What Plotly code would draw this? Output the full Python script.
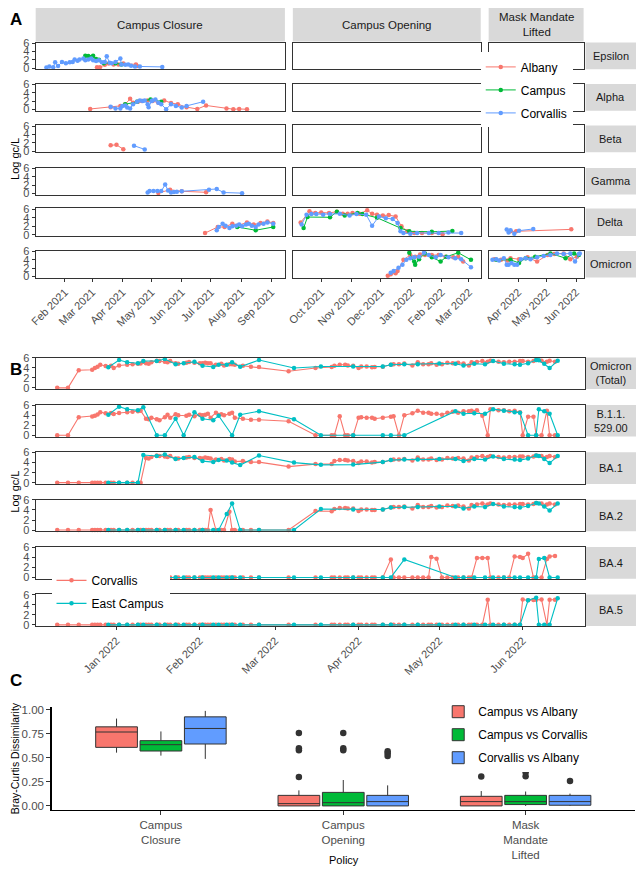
import plotly.graph_objects as go

# ---------------- Panel A data: (date, log gc/L) ----------------
EPSILON_ALBANY = [("2021-03-06", 0.2), ("2021-03-09", 0.2), ("2021-03-14", 0.8), ("2021-03-18", 1.1), ("2021-03-23", 0.9),
                  ("2021-03-28", 0.9), ("2021-04-02", 1.1), ("2021-04-15", 0.9), ("2021-04-16", 0.5)]
EPSILON_CAMPUS = [("2021-02-22", 3.0), ("2021-02-25", 2.9), ("2021-02-28", 2.7), ("2021-03-02", 3.0), ("2021-03-05", 2.2),
                  ("2021-03-08", 2.0), ("2021-03-13", 1.2), ("2021-03-25", 1.2), ("2021-03-31", 0.9)]
EPSILON_CORVALLIS = [("2021-01-13", 0.15), ("2021-01-16", 0.4), ("2021-01-20", 0.2), ("2021-01-22", 1.4), ("2021-01-25", 0.5),
                     ("2021-01-29", 1.5), ("2021-02-02", 1.15), ("2021-02-06", 1.4), ("2021-02-09", 1.5), ("2021-02-11", 2.1),
                     ("2021-02-14", 1.8), ("2021-02-16", 2.1), ("2021-02-20", 2.3), ("2021-02-22", 1.9), ("2021-02-25", 2.1),
                     ("2021-02-28", 2.3), ("2021-03-02", 1.9), ("2021-03-05", 1.7), ("2021-03-08", 1.9), ("2021-03-11", 1.4),
                     ("2021-03-14", 1.5), ("2021-03-16", 2.85), ("2021-03-19", 1.3), ("2021-03-21", 1.15), ("2021-03-25", 1.5),
                     ("2021-03-30", 2.3), ("2021-03-31", 0.9), ("2021-04-04", 0.8), ("2021-04-07", 0.9), ("2021-04-10", 0.6),
                     ("2021-04-14", 0.4), ("2021-04-19", 0.4), ("2021-05-12", 0.3)]

ALPHA_ALBANY = [("2021-02-27", 0.15), ("2021-03-20", 0.6), ("2021-03-30", 0.9), ("2021-04-04", 1.3), ("2021-04-09", 2.6),
                ("2021-04-12", 1.65), ("2021-04-17", 1.9), ("2021-04-21", 2.05), ("2021-04-27", 2.2), ("2021-05-02", 2.05),
                ("2021-05-08", 1.65), ("2021-05-14", 2.2), ("2021-05-21", 1.6), ("2021-05-28", 1.3), ("2021-06-06", 0.6),
                ("2021-06-17", 0.15), ("2021-06-26", 1.0), ("2021-07-17", 0.3), ("2021-07-24", 0.1), ("2021-07-30", 0.15),
                ("2021-08-07", 0.1)]
ALPHA_CAMPUS = [("2021-04-04", 1.3), ("2021-04-16", 1.9), ("2021-04-30", 2.45), ("2021-05-11", 1.9)]
ALPHA_CORVALLIS = [("2021-03-20", 0.7), ("2021-03-25", 0.3), ("2021-03-30", 0.3), ("2021-04-01", 0.9), ("2021-04-04", 1.0),
                   ("2021-04-06", 0.5), ("2021-04-09", 0.3), ("2021-04-12", 1.3), ("2021-04-16", 1.9), ("2021-04-19", 2.2),
                   ("2021-04-22", 2.05), ("2021-04-24", 2.2), ("2021-04-27", 1.3), ("2021-04-28", 0.6), ("2021-05-01", 2.05),
                   ("2021-05-02", 2.2), ("2021-05-05", 2.45), ("2021-05-08", 1.65), ("2021-05-11", 1.3), ("2021-05-16", 0.1),
                   ("2021-05-21", 1.3), ("2021-05-26", 0.9), ("2021-06-01", 0.5), ("2021-06-06", 0.9), ("2021-06-23", 1.9)]

BETA_ALBANY = [("2021-03-20", 1.4), ("2021-03-26", 1.5), ("2021-04-02", 0.45)]
BETA_CAMPUS = []
BETA_CORVALLIS = [("2021-04-13", 1.3), ("2021-04-24", 0.4)]

GAMMA_ALBANY = [("2021-05-08", 0.15), ("2021-05-20", 0.9), ("2021-06-01", 0.55), ("2021-06-26", 0.3)]
GAMMA_CAMPUS = []
GAMMA_CORVALLIS = [("2021-04-27", 0.25), ("2021-04-29", 0.6), ("2021-05-03", 0.6), ("2021-05-07", 0.6), ("2021-05-11", 0.6),
                   ("2021-05-15", 2.15), ("2021-05-18", 0.75), ("2021-05-21", 0.25), ("2021-05-24", 0.4), ("2021-05-27", 0.45),
                   ("2021-06-01", 0.55), ("2021-06-29", 0.9), ("2021-07-07", 1.1), ("2021-07-14", 0.25), ("2021-08-02", 0.1)]

DELTA_ALBANY = [("2021-06-25", 0.45), ("2021-07-08", 1.85), ("2021-07-15", 1.85), ("2021-07-23", 2.6), ("2021-07-28", 2.15),
                ("2021-08-07", 2.9), ("2021-08-14", 2.4), ("2021-08-21", 2.75), ("2021-08-28", 3.15), ("2021-09-03", 2.75),
                ("2021-09-10", 2.9), ("2021-09-19", 5.5), ("2021-09-25", 5.1), ("2021-10-01", 5.2), ("2021-10-09", 5.1),
                ("2021-10-17", 5.4), ("2021-10-23", 4.9), ("2021-10-28", 4.9), ("2021-11-02", 5.1), ("2021-11-09", 4.9),
                ("2021-11-17", 5.7), ("2021-11-22", 4.9), ("2021-11-27", 4.7), ("2021-12-03", 4.5), ("2021-12-09", 4.6),
                ("2021-12-16", 4.3), ("2021-12-22", 2.0), ("2021-12-28", 0.85), ("2022-01-04", 0.45), ("2022-01-12", 0.45),
                ("2022-01-22", 0.45), ("2022-02-02", 0.15),
                ("2022-03-24", 0.85), ("2022-03-30", 0.85), ("2022-05-27", 1.3)]
DELTA_CAMPUS = [("2021-07-28", 1.85), ("2021-08-16", 1.1), ("2021-09-03", 1.85),
                ("2021-09-13", 1.6), ("2021-09-17", 4.15), ("2021-10-10", 4.1), ("2021-10-17", 5.4), ("2021-10-25", 4.5),
                ("2021-11-07", 5.1), ("2021-11-12", 4.85), ("2021-11-27", 4.0), ("2021-12-21", 1.6), ("2021-12-30", 0.85),
                ("2022-01-22", 0.75), ("2022-02-12", 0.9)]
DELTA_CORVALLIS = [("2021-07-07", 1.1), ("2021-07-09", 1.85), ("2021-07-13", 2.6), ("2021-07-16", 2.15), ("2021-07-20", 1.6),
                   ("2021-07-23", 2.0), ("2021-07-27", 2.15), ("2021-07-30", 2.4), ("2021-08-02", 2.0), ("2021-08-06", 2.45),
                   ("2021-08-09", 2.6), ("2021-08-12", 2.15), ("2021-08-16", 1.85), ("2021-08-19", 2.4), ("2021-08-24", 2.6),
                   ("2021-08-28", 2.9), ("2021-09-03", 2.6),
                   ("2021-09-11", 2.4), ("2021-09-16", 4.7), ("2021-09-21", 4.85), ("2021-09-26", 4.85), ("2021-10-03", 4.7),
                   ("2021-10-10", 4.85), ("2021-10-20", 4.9), ("2021-10-30", 4.5), ("2021-11-06", 4.85), ("2021-11-16", 4.7),
                   ("2021-11-22", 2.15), ("2021-11-29", 4.3), ("2021-12-06", 3.9), ("2021-12-13", 3.7), ("2021-12-18", 2.75),
                   ("2021-12-21", 0.85), ("2021-12-24", 0.45), ("2021-12-31", 0.3), ("2022-01-07", 0.45), ("2022-01-19", 0.45),
                   ("2022-01-29", 0.45), ("2022-02-08", 0.6), ("2022-02-21", 0.45),
                   ("2022-03-20", 1.25), ("2022-03-22", 0.6), ("2022-03-24", 1.1), ("2022-03-28", 0.3), ("2022-04-02", 1.0),
                   ("2022-04-17", 1.4)]

OMICRON_ALBANY = [("2021-12-08", 0.15), ("2021-12-11", 0.55), ("2021-12-16", 0.75), ("2021-12-18", 1.3), ("2021-12-24", 4.0),
                  ("2021-12-31", 5.15), ("2022-01-05", 4.75), ("2022-01-10", 5.3), ("2022-01-15", 5.15), ("2022-01-22", 5.15),
                  ("2022-01-29", 5.15), ("2022-02-05", 4.75), ("2022-02-13", 4.6), ("2022-02-18", 4.75), ("2022-02-23", 3.6),
                  ("2022-03-07", 4.15), ("2022-03-14", 4.0), ("2022-03-21", 3.85), ("2022-03-24", 4.4), ("2022-04-02", 4.15),
                  ("2022-04-11", 4.6), ("2022-04-21", 3.6), ("2022-05-02", 5.15), ("2022-05-09", 5.4), ("2022-05-19", 5.55),
                  ("2022-05-26", 4.15), ("2022-06-02", 4.75)]
OMICRON_CAMPUS = [("2021-12-30", 5.7), ("2022-01-04", 3.6), ("2022-01-05", 2.85), ("2022-01-09", 4.15), ("2022-01-15", 5.55),
                  ("2022-01-22", 4.6), ("2022-01-31", 3.6), ("2022-02-06", 4.75), ("2022-02-18", 5.7), ("2022-03-03", 4.0),
                  ("2022-03-09", 4.0), ("2022-03-24", 4.0), ("2022-04-02", 3.25), ("2022-04-09", 4.4), ("2022-04-19", 4.75),
                  ("2022-05-05", 5.55), ("2022-05-21", 4.4), ("2022-05-30", 5.55), ("2022-06-04", 5.15)]
OMICRON_CORVALLIS = [("2021-12-11", 0.9), ("2021-12-14", 1.3), ("2021-12-19", 2.1), ("2021-12-23", 2.85), ("2021-12-27", 4.0),
                     ("2021-12-31", 4.4), ("2022-01-04", 4.6), ("2022-01-09", 4.75), ("2022-01-14", 5.7), ("2022-01-19", 5.15),
                     ("2022-01-26", 4.6), ("2022-01-31", 5.15), ("2022-02-08", 4.6), ("2022-02-15", 4.4), ("2022-02-21", 4.15),
                     ("2022-03-03", 2.25),
                     ("2022-03-05", 4.0), ("2022-03-09", 4.15), ("2022-03-12", 3.85), ("2022-03-17", 4.4), ("2022-03-20", 2.85),
                     ("2022-03-22", 2.85), ("2022-03-25", 3.25), ("2022-03-28", 2.85), ("2022-03-31", 2.85), ("2022-04-04", 4.15),
                     ("2022-04-09", 4.4), ("2022-04-14", 4.15), ("2022-04-21", 4.6), ("2022-04-28", 4.9), ("2022-05-05", 5.15),
                     ("2022-05-12", 5.55), ("2022-05-19", 5.4), ("2022-05-26", 5.55), ("2022-05-31", 3.6), ("2022-06-04", 5.4),
                     ("2022-06-05", 5.55)]

A_VARIANTS = ["Epsilon", "Alpha", "Beta", "Gamma", "Delta", "Omicron"]
A_SITES = ["Albany", "Campus", "Corvallis"]
A_DATA = {
    "Epsilon": [EPSILON_ALBANY, EPSILON_CAMPUS, EPSILON_CORVALLIS],
    "Alpha": [ALPHA_ALBANY, ALPHA_CAMPUS, ALPHA_CORVALLIS],
    "Beta": [BETA_ALBANY, BETA_CAMPUS, BETA_CORVALLIS],
    "Gamma": [GAMMA_ALBANY, GAMMA_CAMPUS, GAMMA_CORVALLIS],
    "Delta": [DELTA_ALBANY, DELTA_CAMPUS, DELTA_CORVALLIS],
    "Omicron": [OMICRON_ALBANY, OMICRON_CAMPUS, OMICRON_CORVALLIS],
}
A_POLICIES = ["Campus Closure", "Campus Opening", "Mask Mandate<br>Lifted"]
A_POLICY_STARTS = ["2021-09-06", "2022-03-04"]
A_TICKVALS = [["2021-02-01", "2021-03-01", "2021-04-01", "2021-05-01", "2021-06-01", "2021-07-01", "2021-08-01", "2021-09-01"],
              ["2021-10-01", "2021-11-01", "2021-12-01", "2022-01-01", "2022-02-01", "2022-03-01"],
              ["2022-04-01", "2022-05-01", "2022-06-01"]]
A_TICKTEXT = [["Feb 2021", "Mar 2021", "Apr 2021", "May 2021", "Jun 2021", "Jul 2021", "Aug 2021", "Sep 2021"],
              ["Oct 2021", "Nov 2021", "Dec 2021", "Jan 2022", "Feb 2022", "Mar 2022"],
              ["Apr 2022", "May 2022", "Jun 2022"]]

# ---------------- Panel B data ----------------
CORV_DATES = ["2021-12-10", "2021-12-14", "2021-12-18", "2021-12-23", "2021-12-24", "2021-12-25", "2021-12-26", "2021-12-28", "2021-12-30", "2021-12-31",
              "2022-01-02", "2022-01-05", "2022-01-07", "2022-01-09", "2022-01-10", "2022-01-12", "2022-01-13", "2022-01-14", "2022-01-16", "2022-01-17",
              "2022-01-19", "2022-01-20", "2022-01-21", "2022-01-23", "2022-01-24", "2022-01-27", "2022-01-28", "2022-01-30", "2022-02-01", "2022-02-02",
              "2022-02-03", "2022-02-04", "2022-02-05", "2022-02-07", "2022-02-09", "2022-02-10", "2022-02-12", "2022-02-13", "2022-02-14", "2022-02-17",
              "2022-02-20", "2022-02-23", "2022-03-06", "2022-03-16", "2022-03-22", "2022-03-23", "2022-03-25", "2022-03-27", "2022-03-28", "2022-03-30",
              "2022-04-01", "2022-04-02", "2022-04-04", "2022-04-06", "2022-04-07", "2022-04-10", "2022-04-13", "2022-04-14", "2022-04-16", "2022-04-18",
              "2022-04-21", "2022-04-23", "2022-04-25", "2022-04-27", "2022-04-28", "2022-04-30", "2022-05-02", "2022-05-04", "2022-05-06", "2022-05-08",
              "2022-05-10", "2022-05-12", "2022-05-13", "2022-05-15", "2022-05-17", "2022-05-19", "2022-05-20", "2022-05-23", "2022-05-25", "2022-05-27",
              "2022-05-29", "2022-05-31", "2022-06-01", "2022-06-03", "2022-06-05", "2022-06-06", "2022-06-08", "2022-06-10", "2022-06-11", "2022-06-13"]
CORV_OMICRON_TOTAL = [0, 0, 3.5, 3.6, 3.95, 4.2, 4.6, 4.35, 4.4, 3.95,
                      4.45, 4.6, 4.7, 4.8, 4.85, 4.9, 4.8, 5.1, 5.4, 5.35,
                      5.2, 5.1, 5.35, 4.9, 4.8, 5.0, 5.15, 5.0, 4.9, 4.9,
                      5.0, 4.9, 4.9, 4.6, 4.8, 4.45, 4.7, 4.7, 4.6, 4.4,
                      4.2, 4.15, 3.3, 3.95, 4.15, 4.4, 4.6, 4.6, 4.45, 4.4,
                      3.95, 4.25, 4.25, 4.1, 4.15, 4.2, 4.6, 4.7, 4.7, 4.85,
                      4.45, 5.1, 4.7, 4.7, 4.9, 4.6, 4.7, 5.0, 4.9, 5.0,
                      4.85, 4.45, 5.1, 5.15, 5.35, 5.2, 5.4, 5.2, 5.1, 5.2,
                      5.2, 5.35, 5.35, 5.2, 5.35, 5.55, 5.4, 5.2, 5.4, 5.2]
CORV_B11529 = [0, 0, 3.6, 3.75, 3.9, 4.15, 4.6, 4.4, 4.45, 4.25,
               4.45, 4.6, 4.7, 4.8, 4.9, 3.3, 3.2, 3.5, 3.2, 3.0,
               3.6, 4.1, 3.5, 4.2, 4.0, 3.9, 4.1, 3.8, 4.1, 4.0,
               4.1, 4.3, 3.5, 4.5, 4.2, 4.0, 4.3, 4.5, 3.5, 3.3,
               3.1, 3.1, 2.8, 0, 0, 0, 3.8, 0, 0, 0,
               3.5, 3.6, 3.5, 3.5, 3.3, 3.5, 3.7, 3.8, 0, 4.0,
               4.4, 4.9, 4.5, 4.5, 4.3, 4.3, 4.1, 4.5, 4.7, 4.5,
               4.8, 4.8, 4.9, 5.0, 3.9, 0, 5.2, 5.0, 5.0, 4.8,
               4.9, 4.6, 0, 3.7, 3.7, 0, 0, 4.9, 0, 0]
CORV_BA1 = [0, 0, 0, 0, 0, 0, 0, 0, 0, 0,
            0, 0, 0, 0, 0, 4.9, 4.8, 5.1, 5.4, 5.3,
            5.2, 5.1, 5.3, 4.8, 4.8, 5.0, 5.1, 4.9, 4.9, 4.8,
            5.0, 4.9, 4.8, 4.6, 4.7, 4.4, 4.7, 4.6, 4.2, 4.3,
            4.1, 4.1, 3.2, 3.7, 3.7, 4.3, 4.5, 4.5, 4.4, 4.3,
            3.9, 4.2, 4.2, 4.0, 4.1, 4.1, 4.5, 4.6, 4.6, 4.7,
            4.4, 5.0, 4.6, 4.6, 4.8, 4.5, 4.6, 4.9, 4.8, 4.9,
            4.8, 4.4, 5.0, 5.1, 5.3, 5.1, 5.3, 5.1, 5.0, 5.1,
            5.1, 5.2, 5.2, 5.1, 5.2, 5.4, 5.3, 5.1, 5.3, 5.1]
CORV_BA2 = [0, 0, 0, 0, 0, 0, 0, 0, 0, 0,
            0, 0, 0, 0, 0, 0, 0, 0, 0, 0,
            0, 0, 0, 0, 0, 0, 0, 0, 0, 0,
            0, 0, 4.0, 0, 0, 0, 3.65, 0, 0, 0,
            0, 0, 0, 3.8, 3.75, 4.2, 4.4, 4.4, 4.3, 4.3,
            3.8, 4.1, 4.1, 4.0, 4.0, 4.1, 4.5, 4.6, 4.6, 4.7,
            4.3, 5.0, 4.6, 4.6, 4.8, 4.5, 4.6, 4.9, 4.8, 4.9,
            4.7, 4.3, 5.0, 5.1, 5.3, 5.1, 5.3, 5.1, 5.0, 5.1,
            5.1, 5.2, 5.2, 5.1, 5.2, 5.4, 5.3, 5.1, 5.3, 5.1]
CORV_BA4 = [0, 0, 0, 0, 0, 0, 0, 0, 0, 0,
            0, 0, 0, 0, 0, 0, 0, 0, 0, 0,
            0, 0, 0, 0, 0, 0, 0, 0, 0, 0,
            0, 0, 0, 0, 0, 0, 0, 0, 0, 0,
            0, 0, 0, 0, 0, 0, 0, 0, 0, 0,
            0, 0, 0, 0, 0, 0, 3.6, 0, 0, 0,
            0, 0, 0, 0, 4.1, 3.75, 0, 0, 0, 0,
            0, 0, 0, 3.9, 3.9, 3.9, 0, 0, 0, 0,
            4.2, 4.1, 3.9, 4.7, 0, 0, 0, 3.7, 4.2, 4.3]
CORV_BA5 = [0, 0, 0, 0, 0, 0, 0, 0, 0, 0,
            0, 0, 0, 0, 0, 0, 0, 0, 0, 0,
            0, 0, 0, 0, 0, 0, 0, 0, 0, 0,
            0, 0, 0, 0, 0, 0, 0, 0, 0, 0,
            0, 0, 0, 0, 0, 0, 0, 0, 0, 0,
            0, 0, 0, 0, 0, 0, 0, 0, 0, 0,
            0, 0, 0, 0, 0, 0, 0, 0, 0, 0,
            0, 0, 0, 0, 0, 5.0, 0, 0, 0, 0,
            0, 0, 5.05, 4.9, 4.95, 5.0, 5.05, 0, 5.0, 5.0]

EAST_DATES = ["2021-12-29", "2022-01-02", "2022-01-05", "2022-01-09", "2022-01-11", "2022-01-16", "2022-01-19", "2022-01-23", "2022-01-26", "2022-01-30",
              "2022-02-02", "2022-02-06", "2022-02-08", "2022-02-11", "2022-02-13", "2022-02-16", "2022-02-23", "2022-03-08", "2022-03-18", "2022-03-30",
              "2022-04-10", "2022-04-13", "2022-04-18", "2022-04-23", "2022-05-01", "2022-05-07", "2022-05-10", "2022-05-14", "2022-05-18", "2022-05-21",
              "2022-05-25", "2022-05-29", "2022-05-31", "2022-06-03", "2022-06-06", "2022-06-07", "2022-06-09", "2022-06-11", "2022-06-14"]
EAST_OMICRON_TOTAL = [4.1, 5.55, 5.1, 4.9, 5.35, 5.35, 5.75, 4.7, 4.9, 5.2,
                      4.4, 4.15, 4.6, 4.6, 5.1, 4.2, 5.55, 3.95, 4.25, 4.25,
                      4.25, 4.6, 4.7, 4.7, 4.85, 4.8, 4.45, 4.8, 4.7, 5.35,
                      4.8, 4.7, 4.6, 4.9, 5.55, 5.5, 4.8, 3.95, 5.4]
EAST_B11529 = [4.1, 5.7, 5.2, 5.0, 5.6, 0, 0, 3.3, 0, 4.6,
               3.3, 3.0, 3.9, None, 0, 4.1, 4.8, 3.2, 0, 0,
               0, 0, 0, None, None, 4.8, 4.3, 4.4, 4.3, 5.2,
               4.9, 4.6, 4.5, 0, 0, 5.2, 4.8, 4.3, 0]
EAST_BA1 = [0, 0, 0, 0, 5.5, 5.3, 5.6, 4.7, 4.9, 5.1,
            4.3, 4.1, 4.5, 4.4, 4.0, 3.5, 5.4, 4.0, 3.55, 3.6,
            4.1, 4.5, 4.6, 4.6, 4.7, 4.7, 4.3, 4.7, 4.6, 5.2,
            4.7, 4.6, 4.5, 4.8, 5.4, 5.3, 4.7, 3.9, 5.3]
EAST_BA2 = [0, 0, 0, 0, 0, 0, 0, 0, 0, 0,
            0, 0, 0, 3.2, 5.3, 0, 0, 0, 4.2, 4.1,
            4.1, 4.5, 4.6, 4.6, 4.7, 4.7, 4.3, 4.7, 4.6, 5.2,
            4.7, 4.6, 4.5, 4.8, 5.4, 5.3, 4.7, 3.9, 5.3]
EAST_BA4 = [0, 0, 0, 0, 0, 0, 0, 0, 0, 0,
            0, 0, 0, 0, 0, 0, 0, 0, 0, 0,
            0, 0, 3.6, None, None, 0, 0, 0, 0, 0,
            0, 0, 0, 0, 0, 3.7, 3.9, 0, 0]
EAST_BA5 = [0, 0, 0, 0, 0, 0, 0, 0, 0, 0,
            0, 0, 0, 0, 0, 0, 0, 0, 0, 0,
            0, 0, 0, 0, 0, 0, 0, 0, 0, 0,
            0, 0, 0, 4.9, 5.4, 0, 0, 0, 5.3]

B_LINEAGES = ["Omicron<br>(Total)", "B.1.1.<br>529.00", "BA.1", "BA.2", "BA.4", "BA.5"]
B_CORV = [CORV_OMICRON_TOTAL, CORV_B11529, CORV_BA1, CORV_BA2, CORV_BA4, CORV_BA5]
B_EAST = [EAST_OMICRON_TOTAL, EAST_B11529, EAST_BA1, EAST_BA2, EAST_BA4, EAST_BA5]
B_TICKVALS = ["2022-01-01", "2022-02-01", "2022-03-01", "2022-04-01", "2022-05-01", "2022-06-01"]
B_TICKTEXT = ["Jan 2022", "Feb 2022", "Mar 2022", "Apr 2022", "May 2022", "Jun 2022"]

for v in B_CORV:
    assert len(v) == len(CORV_DATES)
for v in B_EAST:
    assert len(v) == len(EAST_DATES)

# ---------------- Panel C data (Bray-Curtis box statistics) ----------------
C_POLICY = ["Campus<br>Closure", "Campus<br>Opening", "Mask<br>Mandate<br>Lifted"]
C_GROUPS = ["Campus vs Albany", "Campus vs Corvallis", "Corvallis vs Albany"]
C_Q1 = [[0.61, 0.0, 0.0], [0.572, 0.0, 0.014], [0.645, 0.0, 0.007]]
C_MEDIAN = [[0.77, 0.024, 0.045], [0.638, 0.034, 0.045], [0.807, 0.045, 0.045]]
C_Q3 = [[0.824, 0.11, 0.10], [0.68, 0.141, 0.11], [0.928, 0.11, 0.11]]
C_LOW = [[0.555, 0.0, 0.0], [0.524, 0.0, 0.0], [0.49, 0.0, 0.0]]
C_HIGH = [[0.91, 0.162, 0.155], [0.776, 0.27, 0.15], [0.99, 0.214, 0.128]]
C_OUT_X = [[C_POLICY[1]] * 4 + [C_POLICY[2]],
           [C_POLICY[1]] * 3 + [C_POLICY[2]] * 2,
           [C_POLICY[1]] * 3 + [C_POLICY[2]]]
C_OUT_Y = [[0.30, 0.58, 0.60, 0.76, 0.307],
           [0.58, 0.60, 0.76, 0.31, 0.35],
           [0.52, 0.55, 0.57, 0.26]]

# ---------------- styling ----------------
W, H = 638, 874
FONT = "Liberation Sans, Arial, sans-serif"
TICK_GREY = "#4D4D4D"
AXC = "#333333"
STRIP = "#D9D9D9"
A_COLORS = ["#F8766D", "#00BA38", "#619CFF"]
B_COLORS = ["#F8766D", "#00BFC4"]
C_COLORS = ["#F8766D", "#00BA38", "#619CFF"]


def xk(n):
    return "xaxis" if n == 1 else f"xaxis{n}"


def yk(n):
    return "yaxis" if n == 1 else f"yaxis{n}"


def xr(n):
    return "x" if n == 1 else f"x{n}"


def yr(n):
    return "y" if n == 1 else f"y{n}"


def period_index(d):
    if d < A_POLICY_STARTS[0]:
        return 0
    if d < A_POLICY_STARTS[1]:
        return 1
    return 2


fig = go.Figure()
layout = dict(width=W, height=H, autosize=False, margin=dict(l=0, r=0, t=0, b=0, pad=0),
              paper_bgcolor="white", plot_bgcolor="white",
              font=dict(family=FONT, color="black", size=11))
shapes, annos = [], []


def strip(x0, x1, y0, y1, text, size):
    shapes.append(dict(type="rect", xref="paper", yref="paper", x0=x0 / W, x1=x1 / W,
                       y0=1 - y1 / H, y1=1 - y0 / H, fillcolor=STRIP, line=dict(width=0), layer="below"))
    annos.append(dict(xref="paper", yref="paper", x=(x0 + x1) / 2 / W, y=1 - (y0 + y1) / 2 / H,
                      text=text, showarrow=False, font=dict(size=size, color="#1A1A1A"),
                      xanchor="center", yanchor="middle"))


def text(x, y, t, size, angle=0, bold=False, color="black"):
    annos.append(dict(xref="paper", yref="paper", x=x / W, y=1 - y / H, text=f"<b>{t}</b>" if bold else t,
                      showarrow=False, textangle=angle, font=dict(size=size, color=color),
                      xanchor="center", yanchor="middle"))


# ---------------- Panel A ----------------
A_COLS = [(29, 281, ["2021-01-02", "2021-09-15"]), (289, 479, ["2021-09-02", "2022-03-13"]),
          (487, 583, ["2022-03-01", "2022-06-09"])]
A_ROWS = [(37, 64), (79, 106), (121, 148), (164, 191), (205, 233), (248, 275)]
shown = set()
for r, variant in enumerate(A_VARIANTS):
    top, bot = A_ROWS[r]
    for c in range(3):
        n = r * 3 + c + 1
        x0, x1, rng = A_COLS[c]
        bottom = r == len(A_VARIANTS) - 1
        layout[xk(n)] = dict(domain=[x0 / W, x1 / W], range=rng, type="date", anchor=yr(n),
                             tickvals=A_TICKVALS[c], ticktext=A_TICKTEXT[c], tickangle=-45,
                             showticklabels=bottom, ticks="outside" if bottom else "", ticklen=3,
                             tickcolor=AXC, tickfont=dict(size=11, color=TICK_GREY),
                             showline=True, mirror=True, linecolor=AXC, linewidth=1,
                             showgrid=False, zeroline=False)
        layout[yk(n)] = dict(domain=[1 - bot / H, 1 - top / H], range=[-0.25, 6.15], anchor=xr(n),
                             tickvals=[0, 2, 4, 6], showticklabels=(c == 0),
                             ticks="outside" if c == 0 else "", ticklen=3, tickcolor=AXC,
                             tickfont=dict(size=11, color=TICK_GREY),
                             showline=True, mirror=True, linecolor=AXC, linewidth=1,
                             showgrid=False, zeroline=False)
        # placeholder trace so that every facet panel (even empty ones) is drawn
        fig.add_trace(go.Scatter(x=[], y=[], mode="markers", showlegend=False, hoverinfo="skip",
                                 xaxis=xr(n), yaxis=yr(n)))
        for s, site in enumerate(A_SITES):
            pts = [p for p in A_DATA[variant][s] if period_index(p[0]) == c]
            if not pts:
                continue
            fig.add_trace(go.Scatter(
                x=[p[0] for p in pts], y=[p[1] for p in pts], mode="lines+markers",
                line=dict(color=A_COLORS[s], width=1), marker=dict(color=A_COLORS[s], size=4.5),
                name=site, legendgroup="A_" + site, showlegend=site not in shown, legend="legend",
                xaxis=xr(n), yaxis=yr(n), cliponaxis=False, hoverinfo="skip"))
            shown.add(site)
    strip(585, 636, top, bot, variant, 11)
for c, pol in enumerate(A_POLICIES):
    strip(A_COLS[c][0], A_COLS[c][1], 2, 36, pol, 11.5)

# ---------------- Panel B ----------------
B_ROWS = [(356, 388), (404, 436), (452, 484), (500, 532), (548, 580), (596, 628)]
for r, lin in enumerate(B_LINEAGES):
    n = 19 + r
    top, bot = B_ROWS[r]
    bottom = r == len(B_LINEAGES) - 1
    layout[xk(n)] = dict(domain=[29 / W, 584 / W], range=["2021-12-02", "2022-06-24"], type="date",
                         anchor=yr(n), tickvals=B_TICKVALS, ticktext=B_TICKTEXT, tickangle=-45,
                         showticklabels=bottom, ticks="outside" if bottom else "", ticklen=3,
                         tickcolor=AXC, tickfont=dict(size=11, color=TICK_GREY),
                         showline=True, mirror=True, linecolor=AXC, linewidth=1,
                         showgrid=False, zeroline=False)
    layout[yk(n)] = dict(domain=[1 - bot / H, 1 - top / H], range=[-0.25, 6.05], anchor=xr(n),
                         tickvals=[0, 2, 4, 6], ticks="outside", ticklen=3, tickcolor=AXC,
                         tickfont=dict(size=11, color=TICK_GREY),
                         showline=True, mirror=True, linecolor=AXC, linewidth=1,
                         showgrid=False, zeroline=False)
    for s, (site, dates, vals) in enumerate([("Corvallis", CORV_DATES, B_CORV[r]),
                                             ("East Campus", EAST_DATES, B_EAST[r])]):
        fig.add_trace(go.Scatter(
            x=dates, y=vals, mode="lines+markers", connectgaps=True,
            line=dict(color=B_COLORS[s], width=1.1), marker=dict(color=B_COLORS[s], size=4.5),
            name=site, legendgroup="B_" + site, showlegend=(r == 0), legend="legend2",
            xaxis=xr(n), yaxis=yr(n), cliponaxis=False, hoverinfo="skip"))
    strip(585, 636, top, bot, lin, 11)

# ---------------- Panel C ----------------
for g, grp in enumerate(C_GROUPS):
    fig.add_trace(go.Box(
        x=C_POLICY, q1=C_Q1[g], median=C_MEDIAN[g], q3=C_Q3[g],
        lowerfence=C_LOW[g], upperfence=C_HIGH[g], name=grp, offsetgroup=grp,
        fillcolor=C_COLORS[g], line=dict(color=AXC, width=1), whiskerwidth=0, boxpoints=False,
        legendgroup="C_" + grp, legend="legend3", xaxis="x25", yaxis="y25", hoverinfo="skip"))
for g, grp in enumerate(C_GROUPS):
    fig.add_trace(go.Box(
        x=C_OUT_X[g], y=C_OUT_Y[g], name=grp, offsetgroup=grp, boxpoints="all", jitter=0, pointpos=0,
        fillcolor="rgba(0,0,0,0)", line=dict(color="rgba(0,0,0,0)", width=0), whiskerwidth=0,
        marker=dict(color=AXC, size=6.5), showlegend=False, legend="legend3",
        xaxis="x25", yaxis="y25", hoverinfo="skip"))
layout["xaxis25"] = dict(domain=[45 / W, 635 / W], type="category", categoryorder="array",
                         categoryarray=C_POLICY, range=[-0.6, 2.6], anchor="y25",
                         showline=True, linecolor="black", linewidth=1.2, ticks="outside", ticklen=4,
                         tickcolor=AXC, tickfont=dict(size=11.5, color=TICK_GREY),
                         showgrid=False, zeroline=False)
layout["yaxis25"] = dict(domain=[1 - 814 / H, 1 - 710 / H], range=[-0.04, 1.03], anchor="x25",
                         tickvals=[0, 0.25, 0.5, 0.75, 1.0], ticktext=["0.00", "0.25", "0.50", "0.75", "1.00"],
                         showline=True, linecolor="black", linewidth=1.2, ticks="outside", ticklen=4,
                         tickcolor=AXC, tickfont=dict(size=11.5, color=TICK_GREY),
                         showgrid=False, zeroline=False)
layout["boxmode"] = "group"
layout["boxgap"] = 0.27
layout["boxgroupgap"] = 0.06

# ---------------- legends ----------------
leg_common = dict(bgcolor="white", borderwidth=0, font=dict(size=12, color="black"),
                  traceorder="grouped", tracegroupgap=4, itemwidth=30,
                  xanchor="left", yanchor="top", orientation="v")
layout["legend"] = dict(leg_common, x=479 / W, y=1 - 47 / H)
layout["legend2"] = dict(leg_common, x=45 / W, y=1 - 567 / H)
layout["legend3"] = dict(leg_common, x=436 / W, y=1 - 700 / H)

# ---------------- titles / labels ----------------
text(8, 155, "Log gc/L", 11, angle=-90)
text(8, 492, "Log gc/L", 11, angle=-90)
text(8, 762, "Bray-Curtis Dissimilarity", 10.5, angle=-90)
text(341, 865, "Policy", 11)
text(9, 14, "A", 17, bold=True)
text(9, 368, "B", 17, bold=True)
text(9, 683, "C", 17, bold=True)

layout["shapes"] = shapes
layout["annotations"] = annos
fig.update_layout(**layout)
fig.write_html("out.html", config={"displayModeBar": False, "staticPlot": True},
               post_script="document.body.style.margin='0';document.body.style.padding='0';"
                           "document.body.style.overflow='hidden';")
